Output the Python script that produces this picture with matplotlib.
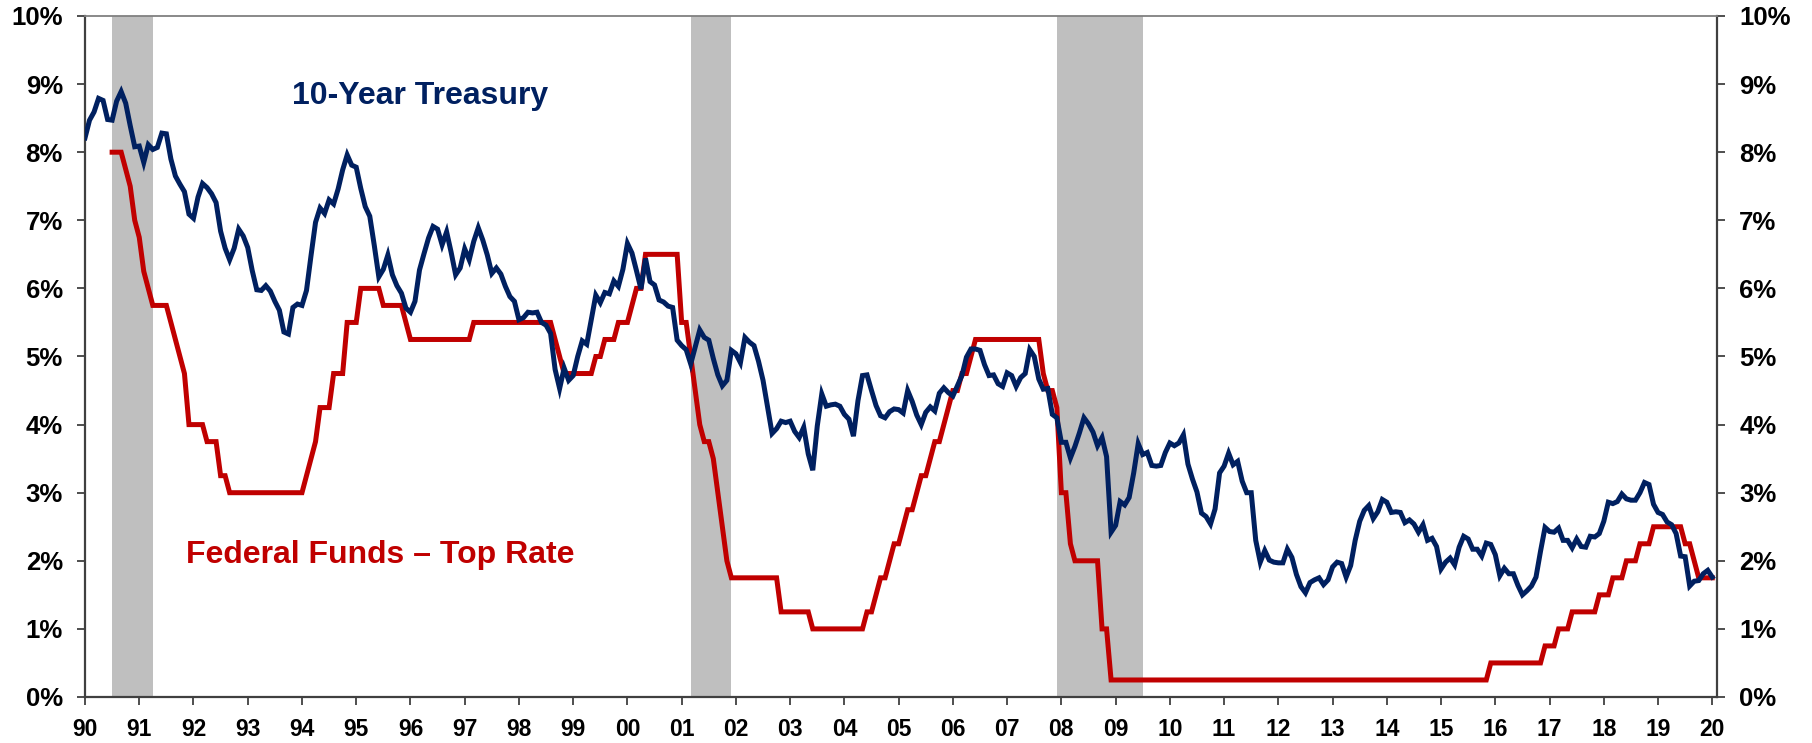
import numpy as np
import matplotlib
matplotlib.use("Agg")
import matplotlib.pyplot as plt

plt.rcParams['font.family'] = ['Liberation Sans', 'DejaVu Sans']
plt.rcParams['font.weight'] = 'bold'

# 10-year treasury, monthly, Jan 1990 - Jan 2020
tsy_10yr = [
    8.21, 8.47, 8.59, 8.79, 8.76, 8.48, 8.47, 8.75, 8.89, 8.72, 8.39, 8.08,  # 90
    8.09, 7.85, 8.11, 8.04, 8.07, 8.28, 8.27, 7.90, 7.65, 7.53, 7.42, 7.09,  # 91
    7.03, 7.34, 7.54, 7.48, 7.39, 7.26, 6.84, 6.59, 6.42, 6.59, 6.87, 6.77,  # 92
    6.60, 6.26, 5.98, 5.97, 6.04, 5.96, 5.81, 5.68, 5.36, 5.33, 5.72, 5.77,  # 93
    5.75, 5.97, 6.48, 6.97, 7.18, 7.10, 7.30, 7.24, 7.46, 7.74, 7.96, 7.81,  # 94
    7.78, 7.47, 7.20, 7.06, 6.63, 6.17, 6.28, 6.49, 6.20, 6.04, 5.93, 5.71,  # 95
    5.65, 5.81, 6.27, 6.51, 6.74, 6.91, 6.87, 6.64, 6.83, 6.53, 6.20, 6.30,  # 96
    6.58, 6.42, 6.69, 6.89, 6.71, 6.49, 6.22, 6.30, 6.21, 6.03, 5.88, 5.81,  # 97
    5.54, 5.57, 5.65, 5.64, 5.65, 5.50, 5.46, 5.34, 4.81, 4.53, 4.83, 4.65,  # 98
    4.72, 5.00, 5.23, 5.18, 5.54, 5.90, 5.79, 5.94, 5.92, 6.11, 6.03, 6.28,  # 99
    6.66, 6.52, 6.26, 5.99, 6.44, 6.10, 6.05, 5.83, 5.80, 5.74, 5.72, 5.24,  # 00
    5.16, 5.10, 4.89, 5.14, 5.39, 5.28, 5.24, 4.97, 4.73, 4.57, 4.65, 5.09,  # 01
    5.04, 4.91, 5.28, 5.21, 5.16, 4.93, 4.65, 4.26, 3.87, 3.94, 4.05, 4.03,  # 02
    4.05, 3.90, 3.81, 3.96, 3.57, 3.33, 3.98, 4.45, 4.27, 4.29, 4.30, 4.27,  # 03
    4.15, 4.08, 3.83, 4.35, 4.72, 4.73, 4.50, 4.28, 4.13, 4.10, 4.19, 4.23,  # 04
    4.22, 4.17, 4.50, 4.34, 4.14, 4.00, 4.18, 4.26, 4.20, 4.46, 4.54, 4.47,  # 05
    4.42, 4.57, 4.72, 4.99, 5.11, 5.11, 5.09, 4.88, 4.72, 4.73, 4.60, 4.56,  # 06
    4.76, 4.72, 4.56, 4.69, 4.75, 5.10, 5.00, 4.67, 4.52, 4.53, 4.15, 4.10,  # 07
    3.74, 3.74, 3.51, 3.68, 3.88, 4.10, 4.01, 3.89, 3.69, 3.81, 3.53, 2.42,  # 08
    2.52, 2.87, 2.82, 2.93, 3.29, 3.72, 3.56, 3.59, 3.40, 3.39, 3.40, 3.59,  # 09
    3.73, 3.69, 3.73, 3.85, 3.42, 3.20, 3.01, 2.70, 2.65, 2.54, 2.76, 3.29,  # 10
    3.39, 3.58, 3.41, 3.46, 3.17, 3.00, 3.00, 2.30, 1.98, 2.15, 2.01, 1.98,  # 11
    1.97, 1.97, 2.17, 2.05, 1.80, 1.62, 1.53, 1.68, 1.72, 1.75, 1.65, 1.72,  # 12
    1.91, 1.98, 1.96, 1.76, 1.93, 2.30, 2.58, 2.74, 2.81, 2.62, 2.72, 2.90,  # 13
    2.86, 2.71, 2.72, 2.71, 2.56, 2.60, 2.54, 2.42, 2.53, 2.30, 2.33, 2.21,  # 14
    1.88, 1.98, 2.04, 1.94, 2.20, 2.36, 2.32, 2.17, 2.17, 2.07, 2.26, 2.24,  # 15
    2.09, 1.78, 1.89, 1.81, 1.81, 1.64, 1.50, 1.56, 1.63, 1.76, 2.14, 2.49,  # 16
    2.43, 2.42, 2.48, 2.30, 2.30, 2.19, 2.32, 2.21, 2.20, 2.36, 2.35, 2.40,  # 17
    2.58, 2.86, 2.84, 2.87, 2.98, 2.91, 2.89, 2.89, 3.00, 3.15, 3.12, 2.83,  # 18
    2.71, 2.68, 2.57, 2.53, 2.40, 2.07, 2.06, 1.63, 1.70, 1.71, 1.81, 1.86,  # 19
    1.76,                                                                    # 20
]

# fed funds target, upper bound, month end, Jul 1990 - Jan 2020
fed_top = [
    8.0, 8.0, 8.0, 7.75, 7.5, 7.0,                                          # 90 (Jul-Dec)
    6.75, 6.25, 6.0, 5.75, 5.75, 5.75, 5.75, 5.5, 5.25, 5.0, 4.75, 4.0,     # 91
    4.0, 4.0, 4.0, 3.75, 3.75, 3.75, 3.25, 3.25, 3.0, 3.0, 3.0, 3.0,        # 92
    3.0, 3.0, 3.0, 3.0, 3.0, 3.0, 3.0, 3.0, 3.0, 3.0, 3.0, 3.0,             # 93
    3.0, 3.25, 3.5, 3.75, 4.25, 4.25, 4.25, 4.75, 4.75, 4.75, 5.5, 5.5,     # 94
    5.5, 6.0, 6.0, 6.0, 6.0, 6.0, 5.75, 5.75, 5.75, 5.75, 5.75, 5.5,        # 95
    5.25, 5.25, 5.25, 5.25, 5.25, 5.25, 5.25, 5.25, 5.25, 5.25, 5.25, 5.25, # 96
    5.25, 5.25, 5.5, 5.5, 5.5, 5.5, 5.5, 5.5, 5.5, 5.5, 5.5, 5.5,           # 97
    5.5, 5.5, 5.5, 5.5, 5.5, 5.5, 5.5, 5.5, 5.25, 5.0, 4.75, 4.75,          # 98
    4.75, 4.75, 4.75, 4.75, 4.75, 5.0, 5.0, 5.25, 5.25, 5.25, 5.5, 5.5,     # 99
    5.5, 5.75, 6.0, 6.0, 6.5, 6.5, 6.5, 6.5, 6.5, 6.5, 6.5, 6.5,            # 00
    5.5, 5.5, 5.0, 4.5, 4.0, 3.75, 3.75, 3.5, 3.0, 2.5, 2.0, 1.75,          # 01
    1.75, 1.75, 1.75, 1.75, 1.75, 1.75, 1.75, 1.75, 1.75, 1.75, 1.25, 1.25, # 02
    1.25, 1.25, 1.25, 1.25, 1.25, 1.0, 1.0, 1.0, 1.0, 1.0, 1.0, 1.0,        # 03
    1.0, 1.0, 1.0, 1.0, 1.0, 1.25, 1.25, 1.5, 1.75, 1.75, 2.0, 2.25,        # 04
    2.25, 2.5, 2.75, 2.75, 3.0, 3.25, 3.25, 3.5, 3.75, 3.75, 4.0, 4.25,     # 05
    4.5, 4.5, 4.75, 4.75, 5.0, 5.25, 5.25, 5.25, 5.25, 5.25, 5.25, 5.25,    # 06
    5.25, 5.25, 5.25, 5.25, 5.25, 5.25, 5.25, 5.25, 4.75, 4.5, 4.5, 4.25,   # 07
    3.0, 3.0, 2.25, 2.0, 2.0, 2.0, 2.0, 2.0, 2.0, 1.0, 1.0, 0.25,           # 08
] + [0.25] * 12 * 6 + [                                                     # 09-14
    0.25, 0.25, 0.25, 0.25, 0.25, 0.25, 0.25, 0.25, 0.25, 0.25, 0.25, 0.5,  # 15
    0.5, 0.5, 0.5, 0.5, 0.5, 0.5, 0.5, 0.5, 0.5, 0.5, 0.5, 0.75,            # 16
    0.75, 0.75, 1.0, 1.0, 1.0, 1.25, 1.25, 1.25, 1.25, 1.25, 1.25, 1.5,     # 17
    1.5, 1.5, 1.75, 1.75, 1.75, 2.0, 2.0, 2.0, 2.25, 2.25, 2.25, 2.5,       # 18
    2.5, 2.5, 2.5, 2.5, 2.5, 2.5, 2.25, 2.25, 2.0, 1.75, 1.75, 1.75,        # 19
    1.75,                                                                   # 20
]

# recessions (decimal years)
recessions = [(1990.5, 1991.25), (2001.167, 2001.917), (2007.917, 2009.5)]

year_ticks = list(range(1990, 2021))
year_labels = [str(y)[2:] for y in year_ticks]
pct_ticks = list(range(0, 11))

x_tsy = 1990 + np.arange(len(tsy_10yr)) / 12.0
x_fed = 1990.5 + np.arange(len(fed_top)) / 12.0

navy = '#002060'
red = '#C00000'
axis_col = '#404040'

fig = plt.figure(figsize=(18.12, 7.43), dpi=100)
ax = fig.add_axes([85 / 1812, 1 - 697 / 743, (1717 - 85) / 1812, (697 - 16) / 743])

for s, e in recessions:
    ax.axvspan(s, e, color='#BFBFBF', lw=0, zorder=0)

ax.plot(x_fed, fed_top, color=red, lw=3.6, zorder=3, solid_joinstyle='miter')
ax.plot(x_tsy, tsy_10yr, color=navy, lw=3.6, zorder=4, solid_joinstyle='miter')

ax.set_xlim(1990, 2020.087)
ax.set_ylim(0, 10)

ax.set_xticks(year_ticks)
ax.set_xticklabels(year_labels)
ax.set_yticks(pct_ticks)
ax.set_yticklabels([f'{p}%' for p in pct_ticks])

ax.tick_params(axis='x', direction='out', length=6, width=1.3, color=axis_col,
               labelsize=16.5, pad=9)
ax.tick_params(axis='y', direction='out', length=6, width=1.3, color=axis_col,
               labelsize=18.5, pad=10, left=True, right=True,
               labelleft=True, labelright=True)
for lab in ax.get_xticklabels() + ax.get_yticklabels():
    lab.set_fontweight('bold')

for side in ['left', 'right', 'bottom']:
    ax.spines[side].set_color(axis_col)
    ax.spines[side].set_linewidth(1.6)
ax.spines['top'].set_color('#808080')
ax.spines['top'].set_linewidth(1.3)

ax.text(1993.82, 8.83, '10-Year Treasury', color=navy, fontsize=23,
        fontweight='bold', ha='left', va='center')
ax.text(1991.87, 2.08, 'Federal Funds \u2013 Top Rate', color=red, fontsize=23,
        fontweight='bold', ha='left', va='center')

plt.savefig('out.png', dpi=100)
